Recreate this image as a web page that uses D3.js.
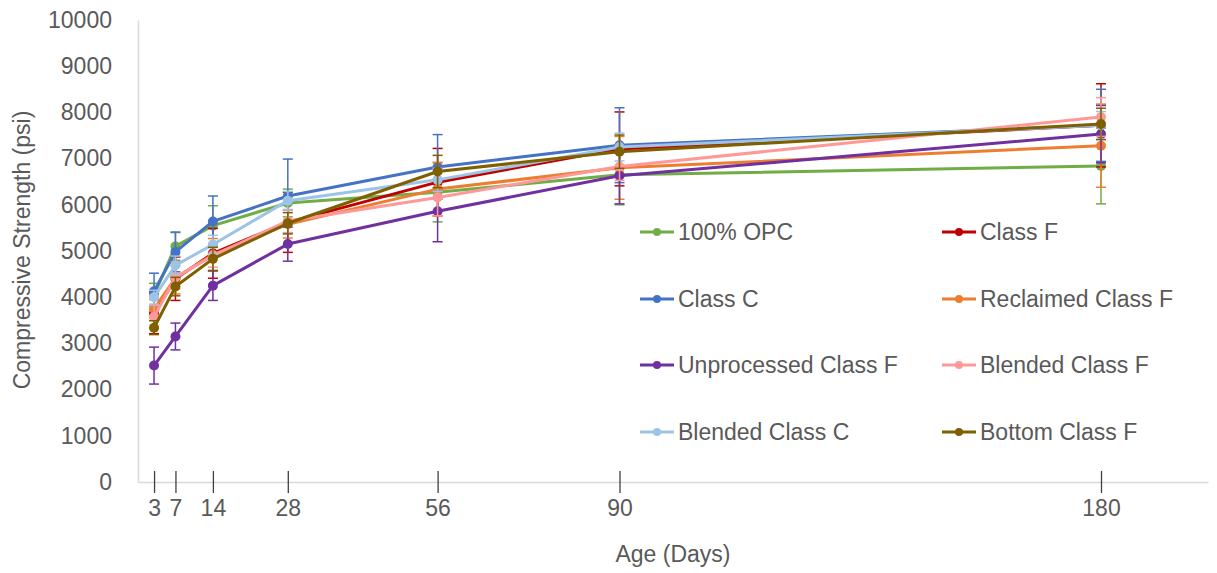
<!DOCTYPE html>
<html>
<head>
<meta charset="utf-8">
<script src="https://cdn.jsdelivr.net/npm/d3@7"></script>
<style>
  html, body { margin: 0; padding: 0; background: #fff; }
  svg { display: block; font-family: "Liberation Sans", Arial, sans-serif; }
</style>
</head>
<body>
<svg id="chart" width="1217" height="573"></svg>
<script>
// ---- data ----
const days = [3, 7, 14, 28, 56, 90, 180];
const yTicks = [0, 1000, 2000, 3000, 4000, 5000, 6000, 7000, 8000, 9000, 10000];
const seriesNames = ["100% OPC", "Class F", "Class C", "Reclaimed Class F",
                     "Unprocessed Class F", "Blended Class F", "Blended Class C", "Bottom Class F"];
const seriesColors = ["#70AD47", "#C00000", "#4472C4", "#ED7D31",
                      "#7030A0", "#FF9999", "#9DC3E6", "#7F6000"];
const opc          = [4050, 5100, 5550, 6040, 6270, 6650, 6840];
const classF       = [3650, 4400, 4950, 5620, 6490, 7210, 7720];
const classC       = [4130, 4980, 5640, 6190, 6820, 7290, 7720];
const reclaimedF   = [3750, 4420, 4920, 5580, 6340, 6800, 7280];
const unprocessedF = [2520, 3150, 4250, 5150, 5860, 6630, 7530];
const blendedF     = [3570, 4430, 4900, 5650, 6160, 6830, 7900];
const blendedC     = [4000, 4690, 5140, 6090, 6540, 7250, 7720];
const bottomF      = [3340, 4230, 4830, 5600, 6720, 7150, 7750];
const opcErr          = [250, 300, 430, 300, 640, 650, 820];
const classFErr       = [440, 470, 540, 650, 730, 800, 900];
const classCErr       = [390, 430, 550, 800, 700, 810, 780];
const reclaimedFErr   = [200, 350, 350, 300, 580, 680, 900];
const unprocessedFErr = [400, 290, 320, 370, 660, 610, 620];
const blendedFErr     = [250, 250, 250, 250, 400, 300, 420];
const blendedCErr     = [150, 200, 200, 200, 250, 300, 300];
const bottomFErr      = [150, 200, 250, 230, 350, 360, 340];

const values = [opc, classF, classC, reclaimedF, unprocessedF, blendedF, blendedC, bottomF];
const errors = [opcErr, classFErr, classCErr, reclaimedFErr, unprocessedFErr, blendedFErr, blendedCErr, bottomFErr];

const series = seriesNames.map((name, i) => ({
  name, color: seriesColors[i],
  points: days.map((d, j) => ({ day: d, v: values[i][j], e: errors[i][j] }))
}));

// ---- layout ----
const svg = d3.select("#chart");
const x = d3.scaleLinear().domain([0, 200]).range([138, 1208]);
const y = d3.scaleLinear().domain([0, 10000]).range([482, 20]);
const textColor = "#595959";

// y axis (line + labels)
const yAxis = svg.append("g").attr("transform", `translate(${x(0)},0)`)
  .call(d3.axisLeft(y).tickValues(yTicks).tickFormat(d3.format("d")).tickSize(0).tickPadding(26));
yAxis.select(".domain").attr("stroke", "#d9d9d9").attr("stroke-width", 1.5);
yAxis.selectAll("text").attr("fill", textColor).style("font-size", "23px")
  .style("font-family", "'Liberation Sans', Arial, sans-serif");

// x axis
const xAxis = svg.append("g").attr("transform", `translate(0,${y(0)})`)
  .call(d3.axisBottom(x).tickValues(days).tickFormat(d3.format("d")).tickSizeInner(11).tickSizeOuter(0).tickPadding(7));
xAxis.select(".domain").attr("stroke", "#d9d9d9").attr("stroke-width", 1.5);
xAxis.selectAll(".tick line").attr("stroke", "#404040").attr("stroke-width", 1.3).attr("y1", -11);
xAxis.selectAll("text").attr("fill", textColor).style("font-size", "23px")
  .style("font-family", "'Liberation Sans', Arial, sans-serif");

// axis titles
svg.append("text").attr("x", 673).attr("y", 562).attr("text-anchor", "middle")
  .attr("fill", textColor).style("font-size", "23px").text("Age (Days)");
svg.append("text").attr("transform", "translate(30,250) rotate(-90)").attr("text-anchor", "middle")
  .attr("fill", textColor).style("font-size", "23px").text("Compressive Strength (psi)");

// series
const line = d3.line().x(d => x(d.day)).y(d => y(d.v));
series.forEach(s => {
  const g = svg.append("g");
  // error bars
  const eb = g.selectAll(".eb").data(s.points).enter().append("g");
  eb.append("line").attr("x1", d => x(d.day)).attr("x2", d => x(d.day))
    .attr("y1", d => y(d.v - d.e)).attr("y2", d => y(d.v + d.e))
    .attr("stroke", s.color).attr("stroke-width", 1.5);
  [-1, 1].forEach(sign => {
    eb.append("line").attr("x1", d => x(d.day) - 5).attr("x2", d => x(d.day) + 5)
      .attr("y1", d => y(d.v + sign * d.e)).attr("y2", d => y(d.v + sign * d.e))
      .attr("stroke", s.color).attr("stroke-width", 1.5);
  });
  g.append("path").datum(s.points).attr("d", line).attr("fill", "none")
    .attr("stroke", s.color).attr("stroke-width", 3).attr("stroke-linejoin", "round");
  g.selectAll("circle").data(s.points).enter().append("circle")
    .attr("cx", d => x(d.day)).attr("cy", d => y(d.v)).attr("r", 5).attr("fill", s.color);
});

// legend
const legendX = [640, 942], legendY = [232, 299, 365, 432];
series.forEach((s, i) => {
  const col = i % 2, row = Math.floor(i / 2);
  const lg = svg.append("g").attr("transform", `translate(${legendX[col]},${legendY[row]})`);
  lg.append("line").attr("x1", 0).attr("x2", 34).attr("y1", 0).attr("y2", 0)
    .attr("stroke", s.color).attr("stroke-width", 3);
  lg.append("circle").attr("cx", 17).attr("cy", 0).attr("r", 4).attr("fill", s.color);
  lg.append("text").attr("x", 38).attr("y", 0).attr("dy", "0.35em")
    .attr("fill", textColor).style("font-size", "23px").text(s.name);
});
</script>
</body>
</html>
